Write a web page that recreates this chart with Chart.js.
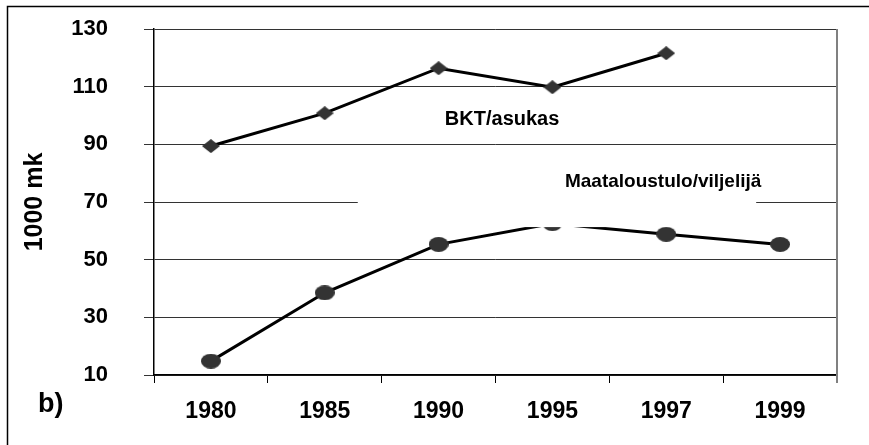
<!DOCTYPE html>
<html>
<head>
<meta charset="utf-8">
<script src="https://cdn.jsdelivr.net/npm/chart.js@4/dist/chart.umd.min.js"></script>
<style>
  html, body { margin: 0; padding: 0; background: #fff; }
  #wrap { width: 869px; height: 445px; position: relative; }
</style>
</head>
<body>
<div id="wrap"><canvas id="c" width="869" height="445"></canvas></div>
<script>
// ---- data ----
const categories = ['1980', '1985', '1990', '1995', '1997', '1999'];
const bktAsukas = [89.4, 100.8, 116.4, 109.8, 121.6, null];
const maataloustulo = [14.8, 38.5, 55.3, 62.5, 58.8, 55.3];
const yTicks = [10, 30, 50, 70, 90, 110, 130];
const seriesLabels = ['BKT/asukas', 'Maataloustulo/viljelijä'];
const yTitle = '1000 mk';
const panelLabel = 'b)';

const SANS = "'Liberation Sans', Arial, sans-serif";

function makeMarker(w, h, shape) {
  const cv = document.createElement('canvas');
  cv.width = w; cv.height = h;
  const g = cv.getContext('2d');
  g.fillStyle = '#333333';
  g.beginPath();
  if (shape === 'diamond') {
    g.moveTo(w / 2, 0); g.lineTo(w, h / 2); g.lineTo(w / 2, h); g.lineTo(0, h / 2);
    g.closePath();
  } else {
    g.ellipse(w / 2, h / 2, w / 2, h / 2, 0, 0, Math.PI * 2);
  }
  g.fill();
  return cv;
}
const diamond = makeMarker(18, 14, 'diamond');
const ellipse = makeMarker(20, 15, 'ellipse');

const decor = {
  id: 'decor',
  beforeDraw(chart) {
    const ctx = chart.ctx;
    ctx.save();
    ctx.fillStyle = '#fff';
    ctx.fillRect(0, 0, chart.width, chart.height);
    ctx.restore();
  },
  beforeDatasetsDraw(chart) {
    const { ctx, chartArea: a } = chart;
    ctx.save();
    ctx.strokeStyle = '#808080';
    ctx.lineWidth = 2;
    ctx.beginPath();
    ctx.moveTo(a.right, a.top);
    ctx.lineTo(a.right, a.bottom + 8);
    ctx.stroke();
    ctx.restore();
  },
  afterDatasetsDraw(chart) {
    const { ctx } = chart;
    const xs = chart.scales.x, ys = chart.scales.y;
    ctx.save();
    // white label box covering part of the plot
    const bx0 = xs.getPixelForValue(1.29), bx1 = xs.getPixelForValue(4.79);
    const by0 = ys.getPixelForValue(85), by1 = ys.getPixelForValue(61.3);
    ctx.fillStyle = '#fff';
    ctx.fillRect(bx0, by0, bx1 - bx0, by1 - by0);
    ctx.fillStyle = '#000';
    ctx.textBaseline = 'alphabetic';
    ctx.textAlign = 'left';
    ctx.font = 'bold 20px ' + SANS;
    ctx.fillText(seriesLabels[0], xs.getPixelForValue(2.055), ys.getPixelForValue(96.7));
    ctx.font = 'bold 19px ' + SANS;
    ctx.fillText(seriesLabels[1], xs.getPixelForValue(3.11), ys.getPixelForValue(75.2));
    // panel label
    ctx.font = 'bold 27px ' + SANS;
    ctx.fillText(panelLabel, 38, 412);
    // outer frame
    ctx.strokeStyle = '#000';
    ctx.lineWidth = 1.5;
    ctx.strokeRect(7.5, 6.5, chart.width + 20, chart.height + 20);
    ctx.restore();
  }
};

new Chart(document.getElementById('c'), {
  type: 'line',
  data: {
    labels: categories,
    datasets: [
      {
        label: seriesLabels[0],
        data: bktAsukas,
        borderColor: '#000',
        borderWidth: 3,
        pointStyle: diamond,
        pointRadius: 9,
        tension: 0,
        spanGaps: false
      },
      {
        label: seriesLabels[1],
        data: maataloustulo,
        borderColor: '#000',
        borderWidth: 3,
        pointStyle: ellipse,
        pointRadius: 10,
        tension: 0
      }
    ]
  },
  options: {
    responsive: false,
    animation: false,
    events: [],
    layout: { padding: { left: 0, top: 29, right: 32, bottom: 0 } },
    plugins: { legend: { display: false }, tooltip: { enabled: false }, title: { display: false } },
    scales: {
      x: {
        type: 'category',
        offset: true,
        grid: { display: true, drawOnChartArea: false, drawTicks: true, tickLength: 8, offset: true, color: '#000', lineWidth: 1 },
        border: { display: true, color: '#000', width: 1.5 },
        ticks: { color: '#000', font: { family: SANS, size: 23, weight: 'bold' }, padding: 15, maxRotation: 0, autoSkip: false },
        afterFit(s) { s.height = 70; s.paddingLeft = 0; s.paddingRight = 0; }
      },
      y: {
        type: 'linear',
        min: 10,
        max: 130,
        afterBuildTicks(s) { s.ticks = yTicks.map(v => ({ value: v })); },
        grid: { display: true, drawOnChartArea: true, drawTicks: true, tickLength: 10, color: '#333', lineWidth: 1 },
        border: { display: true, color: '#000', width: 1.5 },
        ticks: { color: '#000', font: { family: SANS, size: 22, weight: 'bold' }, padding: 36 },
        title: { display: true, text: yTitle, color: '#000', font: { family: SANS, size: 25, weight: 'bold' }, padding: { top: 20, bottom: 0 } },
        afterFit(s) { s.width = 154; s.paddingTop = 0; s.paddingBottom = 0; }
      }
    }
  },
  plugins: [decor]
});
</script>
</body>
</html>
